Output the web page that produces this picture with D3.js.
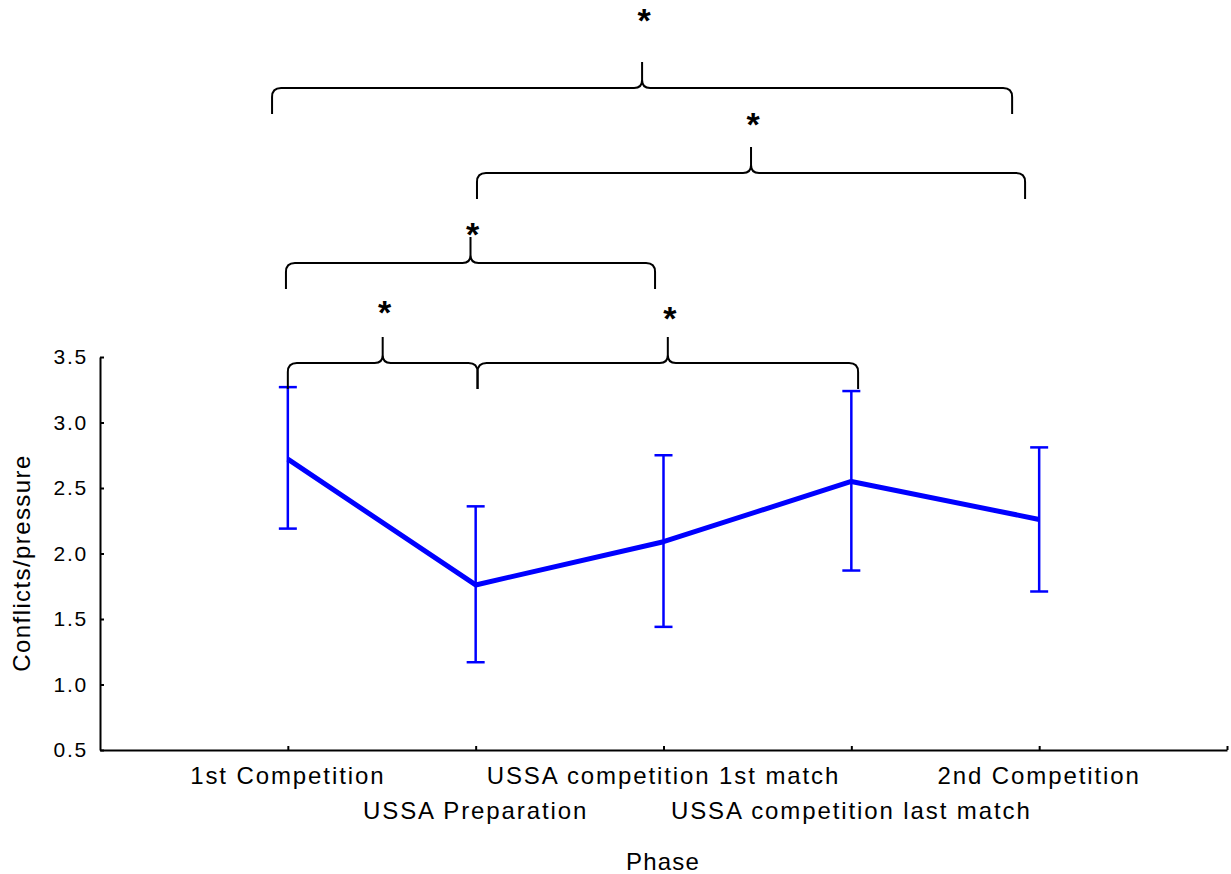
<!DOCTYPE html>
<html>
<head>
<meta charset="utf-8">
<script src="https://cdn.jsdelivr.net/npm/d3@7"></script>
<style>
  body { margin: 0; background: #fff; }
  svg { display: block; }
  text { font-family: "Liberation Sans", Arial, sans-serif; fill: #000; }
</style>
</head>
<body>
<svg id="chart" width="1231" height="874"></svg>
<script>
// ---- data ----
const categories = ["1st Competition", "USSA Preparation", "USSA competition 1st match", "USSA competition last match", "2nd Competition"];
const means = [2.72, 1.76, 2.09, 2.55, 2.26];
const lower = [2.19, 1.17, 1.44, 1.87, 1.71];
const upper = [3.27, 2.36, 2.75, 3.24, 2.81];
const yTicks = [0.5, 1.0, 1.5, 2.0, 2.5, 3.0, 3.5];
const yTitle = "Conflicts/pressure";
const xTitle = "Phase";
// significance braces: from/to in category index units, level & star in y-data units
const braceFrom  = [0.0,   1.01,  -0.01, 1.007, -0.084];
const braceTo    = [1.01,  3.036, 1.955, 3.925, 3.856];
const braceLevel = [3.454, 3.454, 4.218, 4.905, 5.553];
const braceStar  = [3.859, 3.813, 4.454, 5.294, 6.088];
const braceLabel = ["*", "*", "*", "*", "*"];

// ---- scales ----
const svg = d3.select("#chart");
const x = d3.scaleLinear().domain([0, 6]).range([100, 1227]);
const xi = i => x(i + 1);
const y = d3.scaleLinear().domain([0.5, 3.5]).range([750, 357]);

// ---- axes ----
const yAxis = d3.axisLeft(y).tickValues(yTicks).tickSizeInner(-4).tickSizeOuter(0)
  .tickFormat(d3.format(".1f")).tickPadding(12);
const gy = svg.append("g").attr("transform", "translate(100,0)").call(yAxis);
gy.select(".domain").attr("stroke", "#000").attr("stroke-width", 2);
gy.selectAll(".tick line").attr("stroke", "#000").attr("stroke-width", 2);
gy.selectAll(".tick text").attr("font-size", 21).attr("letter-spacing", 1.8)
  .attr("font-family", "Liberation Sans, Arial, sans-serif").attr("fill", "#000");

const xAxis = d3.axisBottom(x).tickValues([1, 2, 3, 4, 5, 6]).tickSizeInner(-4).tickSizeOuter(0)
  .tickFormat("");
const gx = svg.append("g").attr("transform", "translate(0,750)").call(xAxis);
gx.select(".domain").attr("stroke", "#000").attr("stroke-width", 2);
gx.selectAll(".tick line").attr("stroke", "#000").attr("stroke-width", 2);

svg.append("g").selectAll("text").data(categories).join("text")
  .attr("x", (d, i) => xi(i))
  .attr("y", (d, i) => i % 2 === 0 ? 784 : 819)
  .attr("text-anchor", "middle")
  .attr("font-size", 24)
  .attr("letter-spacing", 1.9)
  .text(d => d);

svg.append("text").attr("x", 663).attr("y", 870).attr("text-anchor", "middle")
  .attr("font-size", 24).attr("letter-spacing", 1.2).text(xTitle);

svg.append("text").attr("transform", "translate(30,563) rotate(-90)")
  .attr("text-anchor", "middle").attr("font-size", 24).attr("letter-spacing", 1.4).text(yTitle);

// ---- error bars ----
const cap = 9;
const eb = svg.append("g").attr("stroke", "#0000ff").attr("stroke-width", 2.5).attr("fill", "none");
eb.selectAll("line.v").data(means).join("line").attr("class", "v")
  .attr("x1", (d, i) => xi(i)).attr("x2", (d, i) => xi(i))
  .attr("y1", (d, i) => y(lower[i])).attr("y2", (d, i) => y(upper[i]));
eb.selectAll("line.t").data(means).join("line").attr("class", "t")
  .attr("x1", (d, i) => xi(i) - cap).attr("x2", (d, i) => xi(i) + cap)
  .attr("y1", (d, i) => y(upper[i])).attr("y2", (d, i) => y(upper[i]));
eb.selectAll("line.b").data(means).join("line").attr("class", "b")
  .attr("x1", (d, i) => xi(i) - cap).attr("x2", (d, i) => xi(i) + cap)
  .attr("y1", (d, i) => y(lower[i])).attr("y2", (d, i) => y(lower[i]));

// ---- mean line ----
svg.append("path").datum(means)
  .attr("fill", "none").attr("stroke", "#0000ff").attr("stroke-width", 5)
  .attr("stroke-linejoin", "round")
  .attr("d", d3.line().x((d, i) => xi(i)).y(d => y(d)));

// ---- braces ----
function bracePath(x1, x2, y0) {
  const h = 26, r = 9, p = 26, c = 8, xm = (x1 + x2) / 2;
  return `M${x1},${y0 + h} L${x1},${y0 + r} Q${x1},${y0} ${x1 + r},${y0} L${xm - c},${y0} Q${xm},${y0} ${xm},${y0 - c} L${xm},${y0 - p}` +
         ` M${xm},${y0 - p} L${xm},${y0 - c} Q${xm},${y0} ${xm + c},${y0} L${x2 - r},${y0} Q${x2},${y0} ${x2},${y0 + r} L${x2},${y0 + h}`;
}
const bg = svg.append("g");
bg.selectAll("path").data(braceFrom).join("path")
  .attr("fill", "none").attr("stroke", "#000").attr("stroke-width", 2)
  .attr("d", (d, i) => bracePath(xi(braceFrom[i]), xi(braceTo[i]), y(braceLevel[i])));
bg.selectAll("text").data(braceLabel).join("text")
  .attr("x", (d, i) => (xi(braceFrom[i]) + xi(braceTo[i])) / 2 + 2)
  .attr("y", (d, i) => y(braceStar[i]) + 14)
  .attr("text-anchor", "middle").attr("font-size", 34).attr("font-weight", "bold")
  .text(d => d);
</script>
</body>
</html>
